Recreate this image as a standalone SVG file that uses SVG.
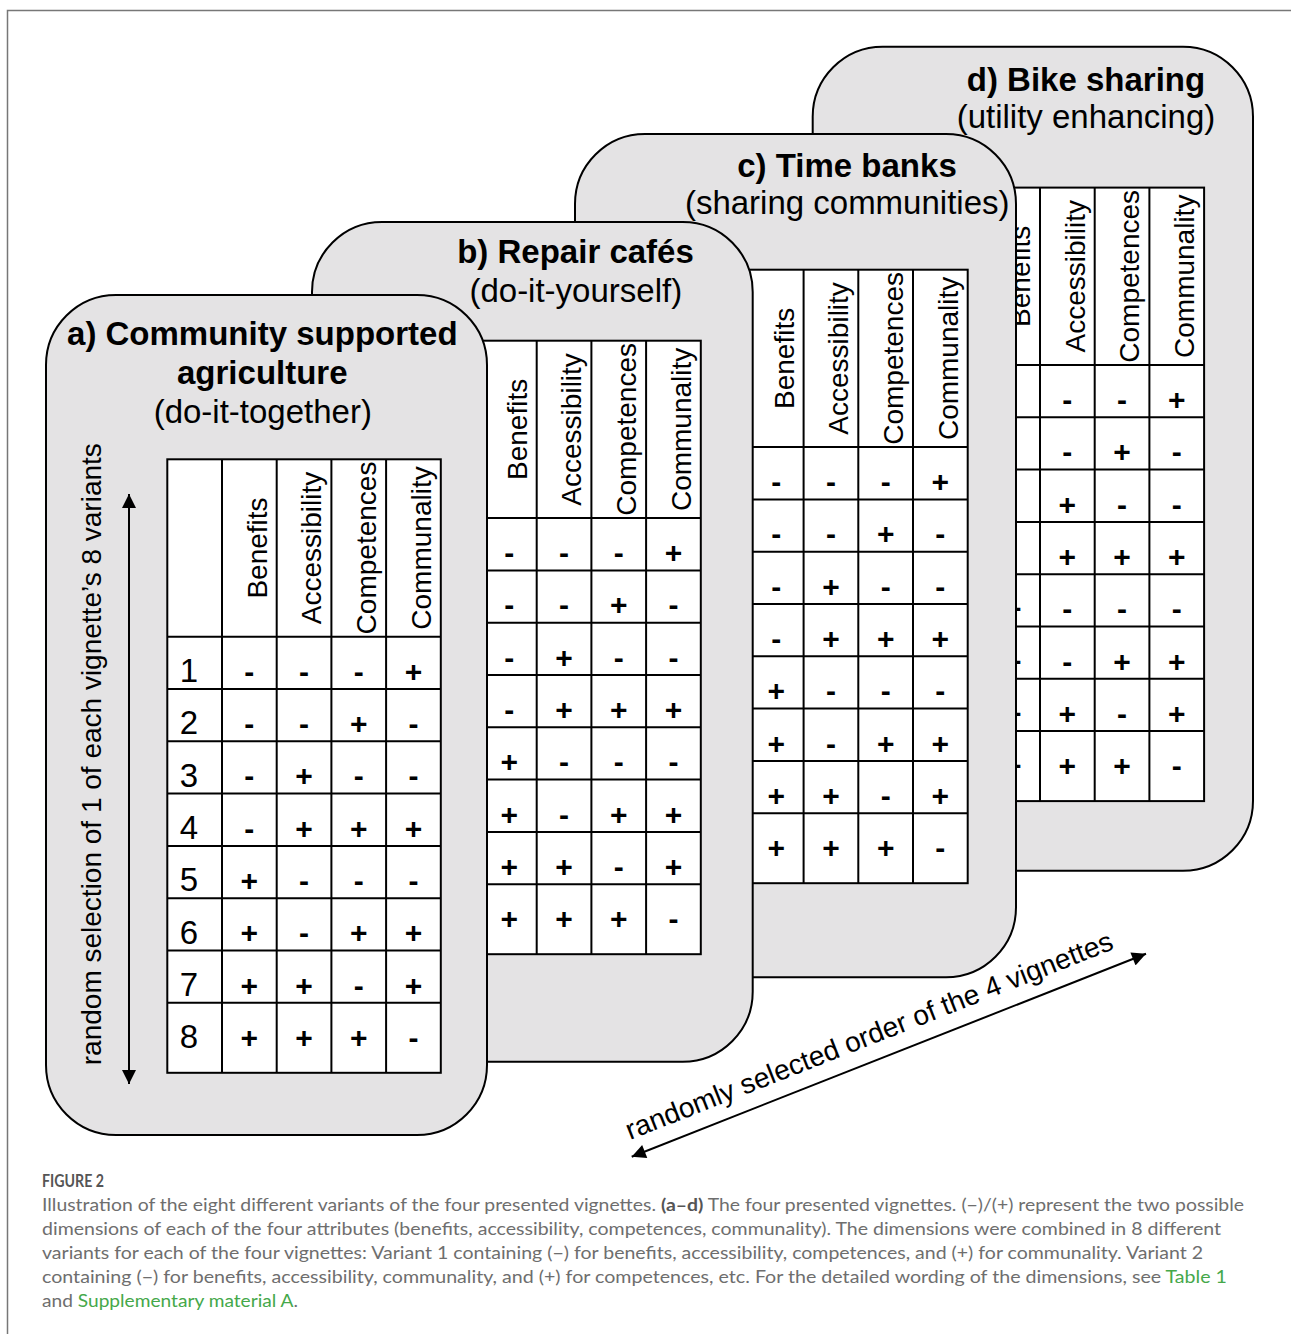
<svg xmlns="http://www.w3.org/2000/svg" width="1291" height="1334" viewBox="0 0 1291 1334">
<defs>
<style>
.card{fill:#e4e3e4;stroke:#000;stroke-width:2}
.tbl{fill:#fff;stroke:#000;stroke-width:2}
.grid{fill:none;stroke:#000;stroke-width:2}
text{font-family:"Liberation Sans",Arial,sans-serif;fill:#000}
.tb{font-size:33px;font-weight:bold;text-anchor:middle}
.tr{font-size:33px;text-anchor:middle}
.hd{font-size:28px;text-anchor:middle}
.v{font-size:30px;font-weight:bold;text-anchor:middle}
.n{font-size:33px;text-anchor:middle}
.lbl{font-size:28px}
.cap{font-family:Lato,"Open Sans",sans-serif;font-size:16.5px;fill:#6e6e6e}
.capb{font-weight:bold;fill:#555}
.lnk{fill:#45a84a}
.arr{fill:none;stroke:#000;stroke-width:2}
</style>
<marker id="ah" viewBox="0 0 10 10" refX="10" refY="5" markerUnits="userSpaceOnUse" markerWidth="15" markerHeight="14" orient="auto-start-reverse">
<path d="M0,0L10,5L0,10z" fill="#000"/>
</marker>
</defs>
<rect width="1291" height="1334" fill="#fff"/>
<path d="M7.5,1334V10.5H1291" fill="none" stroke="#777" stroke-width="1.5"/>

<g id="card-d">
<rect class="card" x="812.7" y="46.7" width="440.3" height="824" rx="70"/>
<text class="tb" x="1086" y="90.7">d) Bike sharing</text>
<text class="tr" x="1086" y="127.7">(utility enhancing)</text>
<rect class="tbl" x="985.3" y="187.6" width="218.8" height="613.5"/>
<path class="grid" d="M985.3,365H1204.1M985.3,417.3H1204.1M985.3,469.6H1204.1M985.3,521.9H1204.1M985.3,574.2H1204.1M985.3,626.5H1204.1M985.3,678.8H1204.1M985.3,731.1H1204.1M1040,187.6V801.1M1094.7,187.6V801.1M1149.4,187.6V801.1"/>
<text class="hd" transform="translate(1030,276.3) rotate(-90)">Benefits</text>
<text class="hd" transform="translate(1084.7,276.3) rotate(-90)">Accessibility</text>
<text class="hd" transform="translate(1139.4,276.3) rotate(-90)">Competences</text>
<text class="hd" transform="translate(1194.1,276.3) rotate(-90)">Communality</text>
<text class="v" x="1067.35" y="410">-</text><text class="v" x="1122.05" y="410">-</text><text class="v" x="1176.75" y="410">+</text>
<text class="v" x="1067.35" y="462.3">-</text><text class="v" x="1122.05" y="462.3">+</text><text class="v" x="1176.75" y="462.3">-</text>
<text class="v" x="1067.35" y="514.6">+</text><text class="v" x="1122.05" y="514.6">-</text><text class="v" x="1176.75" y="514.6">-</text>
<text class="v" x="1067.35" y="566.9">+</text><text class="v" x="1122.05" y="566.9">+</text><text class="v" x="1176.75" y="566.9">+</text>
<text class="v" x="1012.65" y="619.2">+</text><text class="v" x="1067.35" y="619.2">-</text><text class="v" x="1122.05" y="619.2">-</text><text class="v" x="1176.75" y="619.2">-</text>
<text class="v" x="1012.65" y="671.5">+</text><text class="v" x="1067.35" y="671.5">-</text><text class="v" x="1122.05" y="671.5">+</text><text class="v" x="1176.75" y="671.5">+</text>
<text class="v" x="1012.65" y="723.8">+</text><text class="v" x="1067.35" y="723.8">+</text><text class="v" x="1122.05" y="723.8">-</text><text class="v" x="1176.75" y="723.8">+</text>
<text class="v" x="1012.65" y="776.1">+</text><text class="v" x="1067.35" y="776.1">+</text><text class="v" x="1122.05" y="776.1">+</text><text class="v" x="1176.75" y="776.1">-</text>
</g>

<g id="card-c">
<rect class="card" x="575" y="134" width="441" height="843.3" rx="70"/>
<text class="tb" x="847" y="176.7">c) Time banks</text>
<text class="tr" x="847.2" y="213.5">(sharing communities)</text>
<rect class="tbl" x="748.9" y="269.7" width="218.8" height="613.5"/>
<path class="grid" d="M748.9,447.1H967.7M748.9,499.4H967.7M748.9,551.7H967.7M748.9,604H967.7M748.9,656.3H967.7M748.9,708.6H967.7M748.9,760.9H967.7M748.9,813.2H967.7M803.6,269.7V883.2M858.3,269.7V883.2M913,269.7V883.2"/>
<text class="hd" transform="translate(793.6,358.4) rotate(-90)">Benefits</text>
<text class="hd" transform="translate(848.3,358.4) rotate(-90)">Accessibility</text>
<text class="hd" transform="translate(903,358.4) rotate(-90)">Competences</text>
<text class="hd" transform="translate(957.7,358.4) rotate(-90)">Communality</text>
<text class="v" x="776.25" y="492.1">-</text><text class="v" x="830.95" y="492.1">-</text><text class="v" x="885.65" y="492.1">-</text><text class="v" x="940.35" y="492.1">+</text>
<text class="v" x="776.25" y="544.4">-</text><text class="v" x="830.95" y="544.4">-</text><text class="v" x="885.65" y="544.4">+</text><text class="v" x="940.35" y="544.4">-</text>
<text class="v" x="776.25" y="596.7">-</text><text class="v" x="830.95" y="596.7">+</text><text class="v" x="885.65" y="596.7">-</text><text class="v" x="940.35" y="596.7">-</text>
<text class="v" x="776.25" y="649">-</text><text class="v" x="830.95" y="649">+</text><text class="v" x="885.65" y="649">+</text><text class="v" x="940.35" y="649">+</text>
<text class="v" x="776.25" y="701.3">+</text><text class="v" x="830.95" y="701.3">-</text><text class="v" x="885.65" y="701.3">-</text><text class="v" x="940.35" y="701.3">-</text>
<text class="v" x="776.25" y="753.6">+</text><text class="v" x="830.95" y="753.6">-</text><text class="v" x="885.65" y="753.6">+</text><text class="v" x="940.35" y="753.6">+</text>
<text class="v" x="776.25" y="805.9">+</text><text class="v" x="830.95" y="805.9">+</text><text class="v" x="885.65" y="805.9">-</text><text class="v" x="940.35" y="805.9">+</text>
<text class="v" x="776.25" y="858.2">+</text><text class="v" x="830.95" y="858.2">+</text><text class="v" x="885.65" y="858.2">+</text><text class="v" x="940.35" y="858.2">-</text>
</g>

<g id="card-b">
<rect class="card" x="312" y="222" width="440.7" height="839.7" rx="70"/>
<text class="tb" x="575.5" y="263.3">b) Repair cafés</text>
<text class="tr" x="575.8" y="301.7">(do-it-yourself)</text>
<rect class="tbl" x="482" y="340.7" width="218.8" height="613.5"/>
<path class="grid" d="M482,518.1H700.8M482,570.4H700.8M482,622.7H700.8M482,675H700.8M482,727.3H700.8M482,779.6H700.8M482,831.9H700.8M482,884.2H700.8M536.7,340.7V954.2M591.4,340.7V954.2M646.1,340.7V954.2"/>
<text class="hd" transform="translate(526.7,429.4) rotate(-90)">Benefits</text>
<text class="hd" transform="translate(581.4,429.4) rotate(-90)">Accessibility</text>
<text class="hd" transform="translate(636.1,429.4) rotate(-90)">Competences</text>
<text class="hd" transform="translate(690.8,429.4) rotate(-90)">Communality</text>
<text class="v" x="509.35" y="563.1">-</text><text class="v" x="564.05" y="563.1">-</text><text class="v" x="618.75" y="563.1">-</text><text class="v" x="673.45" y="563.1">+</text>
<text class="v" x="509.35" y="615.4">-</text><text class="v" x="564.05" y="615.4">-</text><text class="v" x="618.75" y="615.4">+</text><text class="v" x="673.45" y="615.4">-</text>
<text class="v" x="509.35" y="667.7">-</text><text class="v" x="564.05" y="667.7">+</text><text class="v" x="618.75" y="667.7">-</text><text class="v" x="673.45" y="667.7">-</text>
<text class="v" x="509.35" y="720">-</text><text class="v" x="564.05" y="720">+</text><text class="v" x="618.75" y="720">+</text><text class="v" x="673.45" y="720">+</text>
<text class="v" x="509.35" y="772.3">+</text><text class="v" x="564.05" y="772.3">-</text><text class="v" x="618.75" y="772.3">-</text><text class="v" x="673.45" y="772.3">-</text>
<text class="v" x="509.35" y="824.6">+</text><text class="v" x="564.05" y="824.6">-</text><text class="v" x="618.75" y="824.6">+</text><text class="v" x="673.45" y="824.6">+</text>
<text class="v" x="509.35" y="876.9">+</text><text class="v" x="564.05" y="876.9">+</text><text class="v" x="618.75" y="876.9">-</text><text class="v" x="673.45" y="876.9">+</text>
<text class="v" x="509.35" y="929.2">+</text><text class="v" x="564.05" y="929.2">+</text><text class="v" x="618.75" y="929.2">+</text><text class="v" x="673.45" y="929.2">-</text>
</g>

<g id="card-a">
<rect class="card" x="46" y="295" width="441" height="840" rx="70"/>
<text class="tb" x="262.3" y="345">a) Community supported</text>
<text class="tb" x="262.3" y="384">agriculture</text>
<text class="tr" x="262.8" y="422.5">(do-it-together)</text>
<rect class="tbl" x="167.3" y="459.3" width="273.5" height="613.5"/>
<path class="grid" d="M167.3,636.7H440.8M167.3,689H440.8M167.3,741.3H440.8M167.3,793.6H440.8M167.3,845.9H440.8M167.3,898.2H440.8M167.3,950.5H440.8M167.3,1002.8H440.8M222,459.3V1072.8M276.7,459.3V1072.8M331.4,459.3V1072.8M386.1,459.3V1072.8"/>
<text class="hd" transform="translate(266.7,548) rotate(-90)">Benefits</text>
<text class="hd" transform="translate(321.4,548) rotate(-90)">Accessibility</text>
<text class="hd" transform="translate(376.1,548) rotate(-90)">Competences</text>
<text class="hd" transform="translate(430.8,548) rotate(-90)">Communality</text>
<text class="n" x="189" y="682">1</text><text class="n" x="189" y="734.3">2</text><text class="n" x="189" y="786.6">3</text><text class="n" x="189" y="838.9">4</text>
<text class="n" x="189" y="891.2">5</text><text class="n" x="189" y="943.5">6</text><text class="n" x="189" y="995.8">7</text><text class="n" x="189" y="1048.1">8</text>
<text class="v" x="249.35" y="681.7">-</text><text class="v" x="304.05" y="681.7">-</text><text class="v" x="358.75" y="681.7">-</text><text class="v" x="413.45" y="681.7">+</text>
<text class="v" x="249.35" y="734">-</text><text class="v" x="304.05" y="734">-</text><text class="v" x="358.75" y="734">+</text><text class="v" x="413.45" y="734">-</text>
<text class="v" x="249.35" y="786.3">-</text><text class="v" x="304.05" y="786.3">+</text><text class="v" x="358.75" y="786.3">-</text><text class="v" x="413.45" y="786.3">-</text>
<text class="v" x="249.35" y="838.6">-</text><text class="v" x="304.05" y="838.6">+</text><text class="v" x="358.75" y="838.6">+</text><text class="v" x="413.45" y="838.6">+</text>
<text class="v" x="249.35" y="890.9">+</text><text class="v" x="304.05" y="890.9">-</text><text class="v" x="358.75" y="890.9">-</text><text class="v" x="413.45" y="890.9">-</text>
<text class="v" x="249.35" y="943.2">+</text><text class="v" x="304.05" y="943.2">-</text><text class="v" x="358.75" y="943.2">+</text><text class="v" x="413.45" y="943.2">+</text>
<text class="v" x="249.35" y="995.5">+</text><text class="v" x="304.05" y="995.5">+</text><text class="v" x="358.75" y="995.5">-</text><text class="v" x="413.45" y="995.5">+</text>
<text class="v" x="249.35" y="1047.8">+</text><text class="v" x="304.05" y="1047.8">+</text><text class="v" x="358.75" y="1047.8">+</text><text class="v" x="413.45" y="1047.8">-</text>
<text class="lbl" text-anchor="middle" transform="translate(101,754.2) rotate(-90)">random selection of 1 of each vignette’s 8 variants</text>
</g>

<g id="connectors">
<line class="arr" x1="129" y1="494" x2="129" y2="1084" marker-start="url(#ah)" marker-end="url(#ah)"/>
<line class="arr" x1="631.7" y1="1156.7" x2="1146" y2="953.8" marker-start="url(#ah)" marker-end="url(#ah)"/>
<text class="lbl" transform="translate(630,1140) rotate(-21.53)">randomly selected order of the 4 vignettes</text>
</g>

<g id="caption">
<text class="cap capb" x="42" y="1186.5" font-size="14" textLength="62" lengthAdjust="spacingAndGlyphs">FIGURE 2</text>
<text class="cap" x="42" y="1210.5" textLength="1202" lengthAdjust="spacingAndGlyphs">Illustration of the eight different variants of the four presented vignettes. <tspan class="capb">(a–d)</tspan> The four presented vignettes. (−)/(+) represent the two possible</text>
<text class="cap" x="42" y="1234.5" textLength="1179" lengthAdjust="spacingAndGlyphs">dimensions of each of the four attributes (benefits, accessibility, competences, communality). The dimensions were combined in 8 different</text>
<text class="cap" x="42" y="1258.5" textLength="1161" lengthAdjust="spacingAndGlyphs">variants for each of the four vignettes: Variant 1 containing (−) for benefits, accessibility, competences, and (+) for communality. Variant 2</text>
<text class="cap" x="42" y="1282.5" textLength="1185" lengthAdjust="spacingAndGlyphs">containing (−) for benefits, accessibility, communality, and (+) for competences, etc. For the detailed wording of the dimensions, see <tspan class="lnk">Table 1</tspan></text>
<text class="cap" x="42" y="1306.5" textLength="256" lengthAdjust="spacingAndGlyphs">and <tspan class="lnk">Supplementary material A</tspan>.</text>
</g>
</svg>
